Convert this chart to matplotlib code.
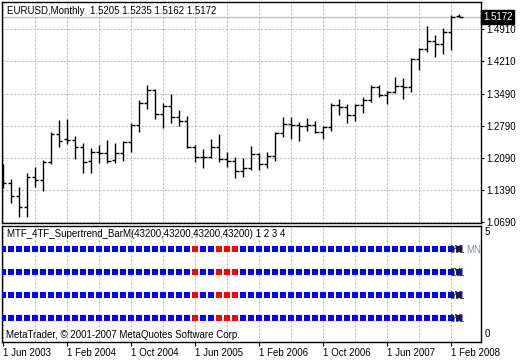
import matplotlib.pyplot as plt

plt.rcParams['font.family'] = ['Liberation Sans', 'DejaVu Sans']

# monthly EURUSD bars, Jun 2003 .. Mar 2008
months = ["Jun 2003", "Jul 2003", "Aug 2003", "Sep 2003", "Oct 2003", "Nov 2003", "Dec 2003",
          "Jan 2004", "Feb 2004", "Mar 2004", "Apr 2004", "May 2004", "Jun 2004", "Jul 2004",
          "Aug 2004", "Sep 2004", "Oct 2004", "Nov 2004", "Dec 2004",
          "Jan 2005", "Feb 2005", "Mar 2005", "Apr 2005", "May 2005", "Jun 2005", "Jul 2005",
          "Aug 2005", "Sep 2005", "Oct 2005", "Nov 2005", "Dec 2005",
          "Jan 2006", "Feb 2006", "Mar 2006", "Apr 2006", "May 2006", "Jun 2006", "Jul 2006",
          "Aug 2006", "Sep 2006", "Oct 2006", "Nov 2006", "Dec 2006",
          "Jan 2007", "Feb 2007", "Mar 2007", "Apr 2007", "May 2007", "Jun 2007", "Jul 2007",
          "Aug 2007", "Sep 2007", "Oct 2007", "Nov 2007", "Dec 2007",
          "Jan 2008", "Feb 2008", "Mar 2008"]

opens = [1.1660, 1.1531, 1.1246, 1.1005, 1.1662, 1.1603, 1.1991,
         1.2611, 1.2495, 1.2470, 1.2319, 1.2011, 1.2216, 1.2190,
         1.2030, 1.2201, 1.2435, 1.2800, 1.3283,
         1.3574, 1.3049, 1.3230, 1.2976, 1.2895, 1.2319, 1.2100,
         1.2114, 1.2333, 1.2066, 1.2013, 1.1794,
         1.1859, 1.2166, 1.1947, 1.2129, 1.2630, 1.2823, 1.2800,
         1.2779, 1.2808, 1.2661, 1.2771, 1.3246,
         1.3195, 1.3027, 1.3246, 1.3349, 1.3647, 1.3465, 1.3537,
         1.3668, 1.3640, 1.4262, 1.4472, 1.4647,
         1.4575, 1.4838, 1.5205]
highs = [1.1950, 1.1625, 1.1443, 1.1750, 1.1894, 1.2030, 1.2648,
         1.2917, 1.2939, 1.2562, 1.2407, 1.2297, 1.2363, 1.2479,
         1.2407, 1.2457, 1.2845, 1.3355, 1.3684,
         1.3590, 1.3283, 1.3487, 1.3136, 1.3005, 1.2370, 1.2282,
         1.2501, 1.2611, 1.2223, 1.2100, 1.2079,
         1.2348, 1.2188, 1.2223, 1.2648, 1.2983, 1.2990, 1.2880,
         1.2954, 1.2895, 1.2792, 1.3283, 1.3377,
         1.3260, 1.3261, 1.3414, 1.3684, 1.3684, 1.3552, 1.3852,
         1.3830, 1.4280, 1.4501, 1.4982, 1.4779,
         1.4925, 1.5217, 1.5235]
lows = [1.1430, 1.1106, 1.0800, 1.0786, 1.1456, 1.1369, 1.1947,
        1.2333, 1.2385, 1.2057, 1.1763, 1.1763, 1.1969, 1.1982,
        1.1969, 1.2019, 1.2223, 1.2661, 1.3152,
        1.2933, 1.2736, 1.2845, 1.2786, 1.2297, 1.2004, 1.1873,
        1.2090, 1.2004, 1.1881, 1.1640, 1.1662,
        1.1822, 1.1822, 1.1859, 1.2019, 1.2552, 1.2501, 1.2464,
        1.2683, 1.2626, 1.2495, 1.2676, 1.3027,
        1.2862, 1.2895, 1.3064, 1.3318, 1.3414, 1.3261, 1.3515,
        1.3371, 1.3537, 1.4006, 1.4400, 1.4304,
        1.4356, 1.4444, 1.5162]
closes = [1.1531, 1.1246, 1.1005, 1.1662, 1.1603, 1.2000, 1.2600,
          1.2464, 1.2470, 1.2319, 1.2004, 1.2216, 1.2190, 1.2026,
          1.2201, 1.2435, 1.2800, 1.3283, 1.3574,
          1.3049, 1.3230, 1.2976, 1.2895, 1.2319, 1.2100, 1.2114,
          1.2333, 1.2070, 1.2013, 1.1794, 1.1859,
          1.2166, 1.1947, 1.2129, 1.2630, 1.2823, 1.2808, 1.2792,
          1.2808, 1.2661, 1.2771, 1.3246, 1.3195,
          1.3027, 1.3246, 1.3349, 1.3647, 1.3465, 1.3537, 1.3668,
          1.3640, 1.4262, 1.4472, 1.4647, 1.4575,
          1.4838, 1.5167, 1.5172]

price_levels = [1.0690, 1.1390, 1.2090, 1.2790, 1.3490, 1.4210, 1.4910]
last_price = 1.5172
header = "EURUSD,Monthly  1.5205 1.5235 1.5162 1.5172"

# supertrend state per timeframe row: 1 = up (blue), -1 = down (red)
trend_row1 = [1] * 24 + [-1, 1, 1, -1, -1, -1] + [1] * 28
trend_row2 = [1] * 24 + [-1, 1, 1, -1, -1, -1] + [1] * 28
trend_row3 = [1] * 24 + [-1, 1, 1, -1, -1, -1] + [1] * 28
trend_row4 = [1] * 24 + [-1, 1, 1, -1, -1, -1] + [1] * 28
indicator_name = "MTF_4TF_Supertrend_BarM(43200,43200,43200,43200) 1 2 3 4"

tick_months = ["Jun 2003", "Feb 2004", "Oct 2004", "Jun 2005",
               "Feb 2006", "Oct 2006", "Jun 2007", "Feb 2008"]

W, H = 520, 360
FS = 7
GRID = dict(color="#c0c0c0", lw=0.75, dashes=(2.2, 1.5))

fig = plt.figure(figsize=(W / 100, H / 100), dpi=100)


def frac(x0, y0, x1, y1):
    return [x0 / W, 1 - y1 / H, (x1 - x0) / W, (y1 - y0) / H]


ax = fig.add_axes(frac(2, 2, 481, 222.5))
ax2 = fig.add_axes(frac(2, 225.5, 481, 341.5))

x = list(range(len(months)))
xlim = (-0.16, 59.7)

# price pane
ax.set_xlim(*xlim)
ax.set_ylim(1.0672, 1.5501)
for v in price_levels:
    ax.axhline(v, **GRID, zorder=0)
for i in range(0, len(months), 4):
    ax.axvline(i, **GRID, zorder=0)
    ax2.axvline(i, **GRID, zorder=0)
ax.axhline(last_price, color="#c0c0c0", lw=1, zorder=1)

ax.vlines(x, lows, highs, color="black", lw=1.0, zorder=3)
ax.hlines(opens, [i - 0.4 for i in x], x, color="black", lw=1.0, zorder=3)
ax.hlines(closes, x, [i + 0.4 for i in x], color="black", lw=1.0, zorder=3)

ax.set_xticks([])
ax.yaxis.tick_right()
ax.set_yticks(price_levels, [f"{v:.4f}" for v in price_levels], fontsize=FS)
ax.tick_params(axis="y", length=2.5, width=0.8, pad=1.5)
ax.text(1.004, last_price, f"{last_price:.4f}", transform=ax.get_yaxis_transform(),
        ha="left", va="center", fontsize=FS, color="white",
        bbox=dict(facecolor="black", edgecolor="black", pad=1.2))

# indicator pane
ax2.set_xlim(*xlim)
ax2.set_ylim(0, 5)
rows = [(4, trend_row1), (3, trend_row2), (2, trend_row3), (1, trend_row4)]
for level, tr in rows:
    cols = ["#0000ff" if t > 0 else "#ff0000" for t in tr]
    ax2.scatter(x, [level] * len(x), c=cols, marker="s", s=19, linewidths=0, zorder=3)

# timeframe tags printed on top of each other at the right end of each row
row_tags = {4: ["H4", "W1"], 3: ["W1", "D1"], 2: ["H4", "W1"], 1: ["H4", "W1"]}
for level, tags in row_tags.items():
    for t in tags:
        ax2.text(55.9, level - 0.05, t, fontsize=FS, color="#202020", ha="left", va="center",
                 zorder=4, alpha=0.85)
ax2.text(57.9, 3.95, "MN", fontsize=FS, color="#7890b0", ha="left", va="center", zorder=4)

ax2.set_yticks([])
ax2.text(1.008, 4.95, "5", transform=ax2.get_yaxis_transform(), fontsize=FS, va="top")
ax2.text(1.008, 0.12, "0", transform=ax2.get_yaxis_transform(), fontsize=FS, va="bottom")

tick_pos = [months.index(m) for m in tick_months]
ax2.set_xticks(tick_pos, ["1 " + m for m in tick_months], fontsize=FS, ha="left")
ax2.tick_params(axis="x", length=3, width=0.8, pad=1.5)

for a in (ax, ax2):
    for s in a.spines.values():
        s.set_linewidth(1.0)
        s.set_color("black")

fig.text(7 / W, 1 - 11 / H, header, fontsize=FS, va="center")
fig.text(7 / W, 1 - 234 / H, indicator_name, fontsize=FS, va="center")
fig.text(6 / W, 1 - 335 / H, "MetaTrader, \u00a9 2001-2007 MetaQuotes Software Corp.", fontsize=FS, va="center")

fig.savefig("out.png", dpi=100)
